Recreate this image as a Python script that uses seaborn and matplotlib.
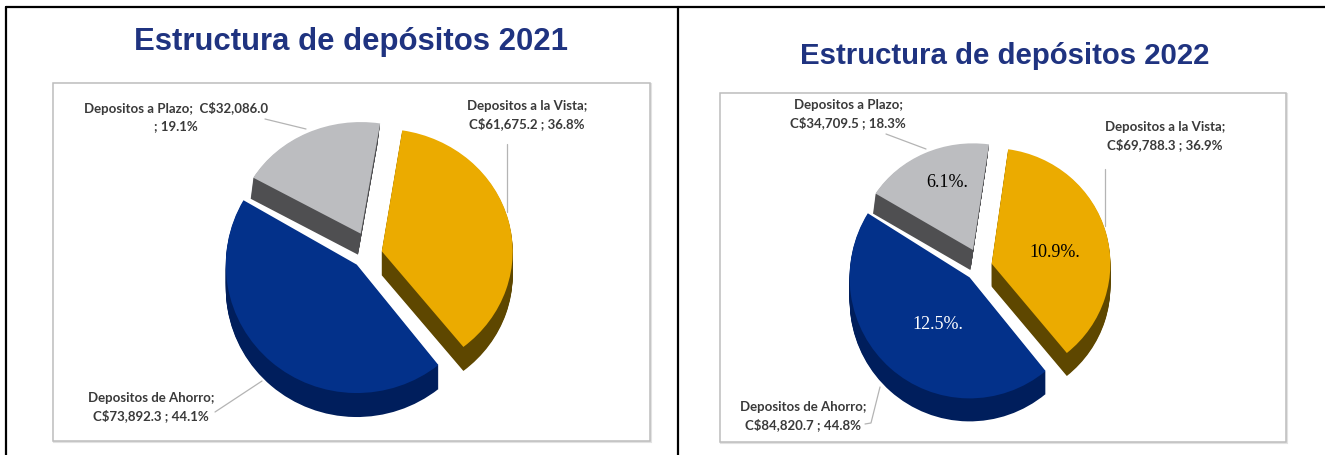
#!/usr/bin/env python3
"""Estructura de depositos 2021 / 2022, two exploded pseudo-3D pies side by side"""

import matplotlib
matplotlib.use('Agg')
import matplotlib.pyplot as plt
from matplotlib.patches import Rectangle
from matplotlib.transforms import Affine2D
import seaborn as sns

W, H = 1325, 456

# Slices go counter-clockwise from the start angle: plazo, ahorro, vista
values_2021 = [32086.0, 73892.3, 61675.2]
values_2022 = [34709.5, 84820.7, 69788.3]

labels_2021 = ['Depositos a Plazo;  C$32,086.0\n; 19.1%',
               'Depositos de Ahorro;\nC$73,892.3 ; 44.1%',
               'Depositos a la Vista;\nC$61,675.2 ; 36.8%']
labels_2022 = ['Depositos a Plazo;\nC$34,709.5 ; 18.3%',
               'Depositos de Ahorro;\nC$84,820.7 ; 44.8%',
               'Depositos a la Vista;\nC$69,788.3 ; 36.9%']
inner_2022 = ['6.1%.', '12.5%.', '10.9%.']

top_colors = sns.color_palette(['#BCBDC0', '#03318A', '#EBAB00'])
side_colors = sns.color_palette(['#4F4F51', '#001E5C', '#5E4700'])
title_color = '#1F3380'
label_color = '#3A3A3A'
frame_color = '#BDBDBD'
leader_color = '#B4B4B4'

sns.set_theme(style='white')
plt.rcParams['font.family'] = ['Lato', 'Liberation Sans', 'DejaVu Sans']


def px_y(y):
    return H - y


def draw_pie(fig, values, center, rx, ry, depth, start, explode, scales, shifts):
    """Draw the pie many times, shifted down, so the stack looks like a solid.
    scales and shifts nudge each slice to imitate the perspective of the original."""
    span = 1.6
    ax = fig.add_axes([(center[0] - span * rx) / W,
                       (px_y(center[1]) - span * ry) / H,
                       2 * span * rx / W, 2 * span * ry / H], zorder=3)
    ax.patch.set_alpha(0)
    for d in list(range(depth, 0, -1)) + [0]:
        colors = top_colors if d == 0 else side_colors
        wedges, _ = ax.pie(values, colors=colors, startangle=start, explode=explode,
                           center=(0, -d / ry), radius=1, counterclock=True,
                           wedgeprops={'linewidth': 0})
        for i, w in enumerate(wedges):
            # paint order: plazo, vista, ahorro in front
            w.set_zorder([1, 3, 2][i] * 1000 + (depth - d))
            w.set_clip_on(False)
            cx, cy = w.center
            # the plazo wall leans inwards and stops short, leaving the white gap above ahorro
            lean = -0.13 * d / rx if i == 0 else 0
            if i == 0 and d > depth - 3:
                w.set_visible(False)
            w.set_transform(Affine2D().translate(-cx, -cy).scale(*scales[i])
                            .translate(cx + lean, cy - shifts[i] / ry) + ax.transData)
    ax.set_aspect('auto')
    ax.set_xlim(-span, span)
    ax.set_ylim(-span, span)
    ax.axis('off')
    return ax


def main():
    fig = plt.figure(figsize=(W / 100, H / 100), dpi=100, facecolor='white')

    # Page-level layer in pixel coordinates: frames, rules, text
    bg = fig.add_axes([0, 0, 1, 1], zorder=1)
    bg.set_xlim(0, W)
    bg.set_ylim(H, 0)
    bg.axis('off')
    top = fig.add_axes([0, 0, 1, 1], zorder=5)
    top.set_xlim(0, W)
    top.set_ylim(H, 0)
    top.axis('off')
    top.patch.set_alpha(0)

    # table rules
    bg.plot([6, W], [8, 8], color='black', lw=1.6)
    bg.plot([6, 6], [8, H], color='black', lw=1.6)
    bg.plot([678, 678], [8, H], color='black', lw=1.6)

    # chart frames with a faint shadow
    for x0, y0, x1, y1 in [(53, 84, 650, 442), (720, 94, 1286, 443)]:
        bg.add_patch(Rectangle((x0 + 1, y0 + 1), x1 - x0, y1 - y0, fill=False,
                               ec='#E2E2E2', lw=1.5))
        bg.add_patch(Rectangle((x0, y0), x1 - x0, y1 - y0, fc='white', ec=frame_color, lw=1.1))

    # titles
    title_kw = dict(color=title_color, fontweight='bold', ha='center', va='baseline',
                    family=['Liberation Sans', 'DejaVu Sans'])
    top.text(351, 50, 'Estructura de depósitos 2021', fontsize=22.4, **title_kw)
    top.text(1005, 64, 'Estructura de depósitos 2022', fontsize=21.2, **title_kw)

    # pies
    draw_pie(fig, values_2021, (370, 249), 135, 120, 24, 81, [0.16, 0.15, 0.09],
             [(0.92, 0.93), (0.97, 1.07), (0.97, 1.02)], [3, 3, 6])
    draw_pie(fig, values_2022, (982, 264), 125, 110, 23, 82, [0.17, 0.15, 0.08],
             [(0.92, 0.97), (0.96, 1.10), (0.95, 1.05)], [4, 2, 3])

    # leader lines
    leaders = [([265, 306], [120, 130]), ([506.5, 506.5], [145, 213]), ([215, 262], [413, 382]),
               ([886, 926], [135, 150]), ([1105, 1105], [170, 227]),
               ([865, 871, 880], [425, 424, 388])]
    for xs, ys in leaders:
        top.plot(xs, ys, color=leader_color, lw=0.9)

    # outside labels
    label_kw = dict(color=label_color, fontsize=9.5, fontweight='bold', ha='center', va='center',
                    linespacing=1.5)
    for text, pos in zip(labels_2021, [(176, 117), (151, 407), (527, 115)]):
        top.text(pos[0], pos[1], text, **label_kw)
    for text, pos in zip(labels_2022, [(848, 114), (803, 416), (1165, 136)]):
        top.text(pos[0], pos[1], text, **label_kw)

    # inside labels of 2022
    for text, pos, col in zip(inner_2022, [(947, 183), (938, 325), (1055, 253)],
                              ['black', 'white', 'black']):
        top.text(pos[0], pos[1], text, color=col, fontsize=13, ha='center', va='center',
                 family=['Liberation Serif', 'DejaVu Serif'])

    fig.savefig('out.png', dpi=100)


if __name__ == "__main__":
    main()
